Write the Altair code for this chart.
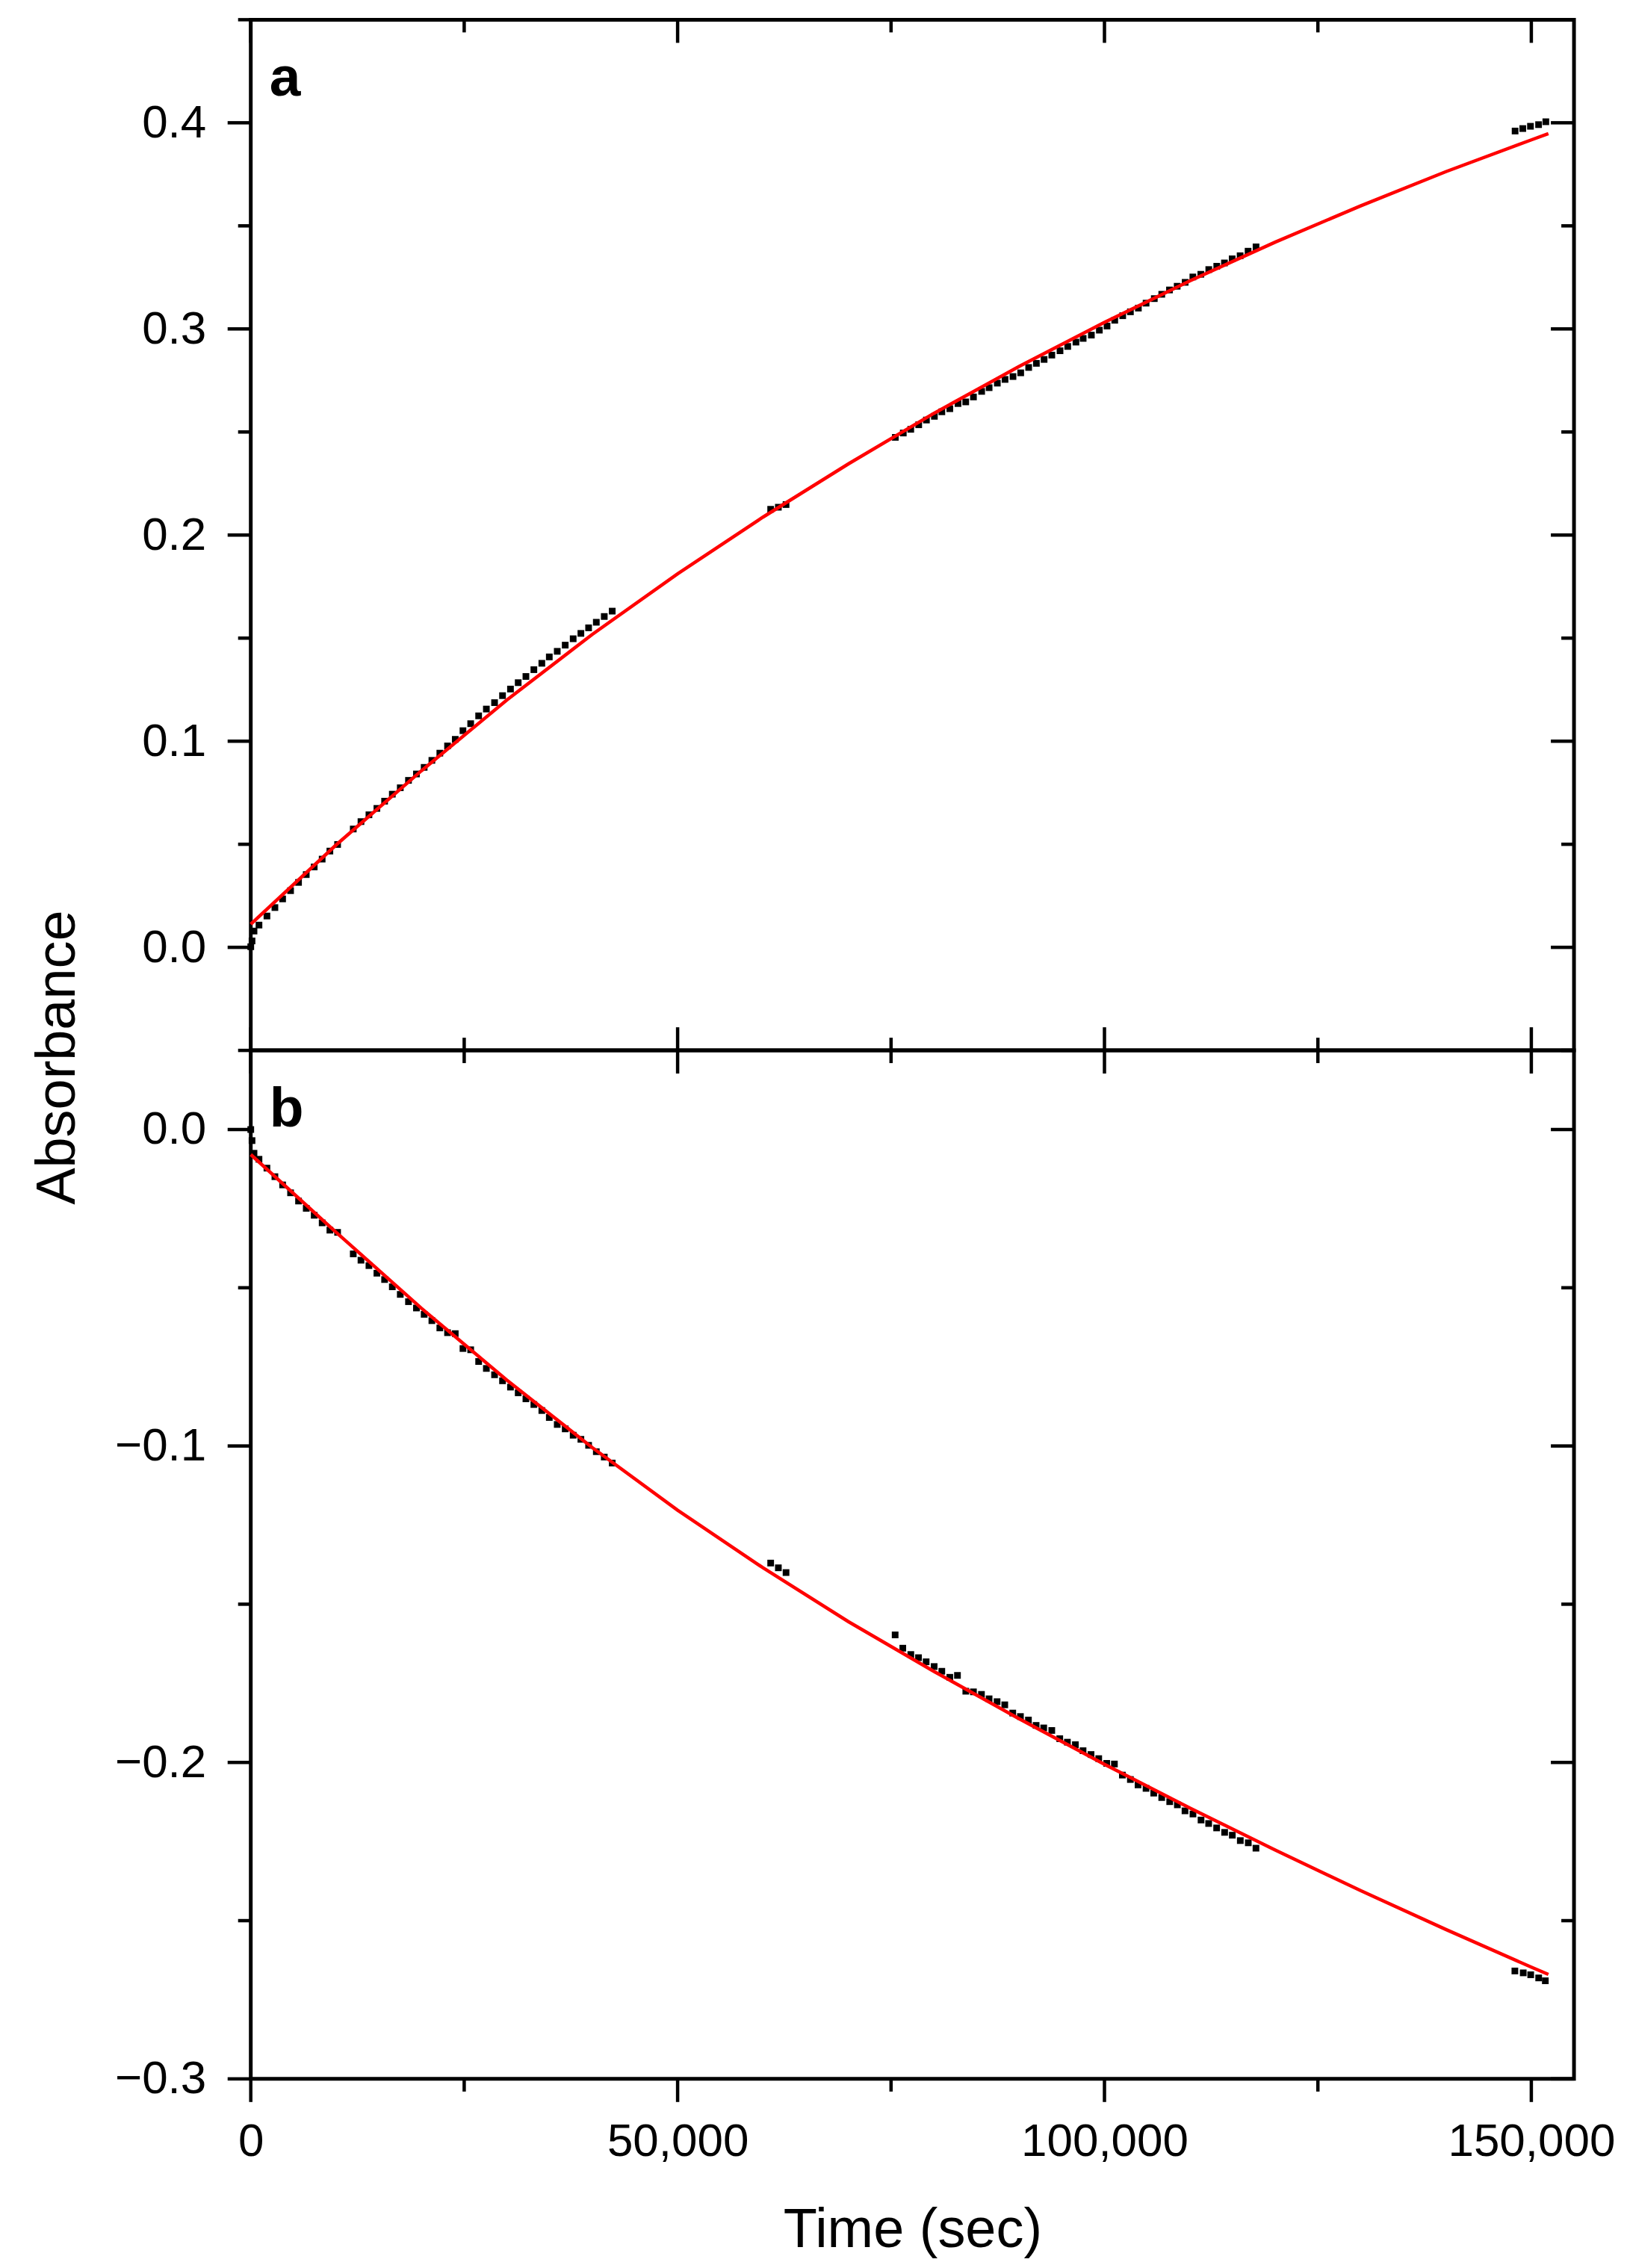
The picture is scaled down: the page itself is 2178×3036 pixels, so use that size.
import altair as alt
import pandas as pd

# ---------------- data ----------------
# panel a: measured absorbance
a_time = [0, 146, 379, 962, 1894, 2827, 3730, 4662, 5595, 6498, 7431, 8363, 9267, 10170,
          12006, 12909, 13842, 14774, 15677, 16581, 17513, 18475, 19407, 20311, 21214, 22146,
          23050, 23953, 24856, 25760, 26692, 27596, 28557, 29490, 30422, 31326, 32229, 33161,
          34094, 34968, 35900, 36833, 37765, 38669, 39572, 40475, 41408, 42340,
          60900, 61800, 62700,
          75502, 76434, 77309, 78241, 79144, 80077, 80951, 81884, 82845, 83748, 84652, 85613,
          86488, 87449, 88352, 89285, 90188, 91121, 92024, 92928, 93831, 94793, 95696, 96658,
          97503, 98464, 99399, 100300, 101204, 102136, 103039, 103972, 104875, 105837, 106711,
          107614, 108518, 109450, 110354, 111287, 112218, 113152, 114054, 114957, 115890,
          116822, 117755,
          148100, 149000, 149900, 150850, 151700]
a_abs = [0.0003, 0.0031, 0.0079, 0.0108, 0.0152, 0.0193, 0.0235, 0.0275, 0.0315, 0.0353, 0.0390,
         0.0428, 0.0467, 0.0499,
         0.0574, 0.0610, 0.0643, 0.0674, 0.0709, 0.0743, 0.0774, 0.0810, 0.0841, 0.0873, 0.0907,
         0.0942, 0.0977, 0.1009, 0.1051, 0.1085, 0.1123, 0.1156, 0.1187, 0.1221, 0.1253, 0.1284,
         0.1314, 0.1347, 0.1378, 0.1409, 0.1436, 0.1466, 0.1497, 0.1523, 0.1550, 0.1577, 0.1605,
         0.1631,
         0.2125, 0.2135, 0.2148,
         0.2474, 0.2495, 0.2513, 0.2535, 0.2558, 0.2576, 0.2598, 0.2613, 0.2638, 0.2646, 0.2670,
         0.2697, 0.2715, 0.2737, 0.2755, 0.2769, 0.2787, 0.2813, 0.2833, 0.2852, 0.2873, 0.2894,
         0.2915, 0.2936, 0.2954, 0.2970, 0.2994, 0.3014, 0.3042, 0.3064, 0.3083, 0.3101, 0.3125,
         0.3147, 0.3168, 0.3189, 0.3207, 0.3226, 0.3252, 0.3265, 0.3288, 0.3304, 0.3320, 0.3340,
         0.3355, 0.3377, 0.3398,
         0.3960, 0.3972, 0.3983, 0.3991, 0.4005]

# panel a: fitted curve
fit_time = [0, 10000, 20000, 30000, 40000, 50000, 60000, 70000, 80000, 90000, 100000,
            110000, 120000, 130000, 140000, 150000, 152000]
a_fit = [0.0112, 0.0497, 0.0857, 0.1200, 0.1518, 0.1812, 0.2087, 0.2345, 0.2590, 0.2818,
         0.3032, 0.3233, 0.3421, 0.3597, 0.3763, 0.3917, 0.3947]

# panel b: measured absorbance
b_time = [0, 146, 379, 962, 1894, 2827, 3730, 4662, 5595, 6498, 7431, 8363, 9267, 10170,
          12006, 12909, 13842, 14774, 15677, 16581, 17513, 18475, 19407, 20311, 21214, 22146,
          23050, 23953, 24856, 25760, 26692, 27596, 28557, 29490, 30422, 31326, 32229, 33161,
          34094, 34968, 35900, 36833, 37765, 38669, 39572, 40475, 41408, 42340,
          60900, 61800, 62700,
          75480, 76378, 77316, 78214, 79110, 80048, 80946, 81883, 82780, 83757, 84652, 85590,
          86485, 87420, 88320, 89256, 90156, 91092, 91992, 92884, 93828, 94763, 95657, 96591,
          97491, 98428, 99327, 100263, 101163, 102098, 103034, 103933, 104870, 105770, 106706,
          107642, 108541, 109433, 110368, 111312, 112204, 113139, 114075, 114975, 115910,
          116846, 117745,
          148074, 149053, 149927, 150862, 151640]
b_abs = [0.0, -0.0035, -0.0075, -0.0094, -0.0122, -0.0149, -0.0175, -0.0200, -0.0226, -0.0249,
         -0.0271, -0.0295, -0.0318, -0.0325,
         -0.0393, -0.0413, -0.0430, -0.0454, -0.0474, -0.0497, -0.0521, -0.0544, -0.0564,
         -0.0584, -0.0604, -0.0627, -0.0642, -0.0645, -0.0692, -0.0696, -0.0733, -0.0755,
         -0.0775, -0.0794, -0.0814, -0.0832, -0.0851, -0.0869, -0.0888, -0.0910, -0.0932,
         -0.0946, -0.0966, -0.0979, -0.0998, -0.1018, -0.1035, -0.1054,
         -0.1370, -0.1385, -0.1400,
         -0.1597, -0.1639, -0.1659, -0.1669, -0.1682, -0.1697, -0.1712, -0.1731, -0.1725,
         -0.1775, -0.1777, -0.1785, -0.1799, -0.1808, -0.1818, -0.1844, -0.1855, -0.1866,
         -0.1883, -0.1891, -0.1899, -0.1925, -0.1936, -0.1944, -0.1963, -0.1975, -0.1988,
         -0.2003, -0.2005, -0.2040, -0.2054, -0.2071, -0.2082, -0.2097, -0.2111, -0.2124,
         -0.2134, -0.2153, -0.2163, -0.2182, -0.2193, -0.2207, -0.2221, -0.2230, -0.2247,
         -0.2254, -0.2271,
         -0.2659, -0.2665, -0.2671, -0.2681, -0.2690]

# panel b: fitted curve
b_fit = [-0.0079, -0.0325, -0.0565, -0.0792, -0.1005, -0.1203, -0.1385, -0.1555, -0.1712,
         -0.1862, -0.2006, -0.2144, -0.2277, -0.2405, -0.2528, -0.2647, -0.2670]

# tick values
x_major = [0, 50000, 100000, 150000]
x_minor = [25000, 75000, 125000]
ya_major = [0.0, 0.1, 0.2, 0.3, 0.4]
ya_minor = [-0.05, 0.05, 0.15, 0.25, 0.35, 0.45]
yb_major = [0.0, -0.1, -0.2, -0.3]
yb_minor = [-0.05, -0.15, -0.25]

# ---------------- layout / style ----------------
W = 1773
HA = 1381
HB = 1378
X_DOMAIN = [0, 155000]
YA_DOMAIN = [-0.05, 0.45]
YB_DOMAIN = [-0.3, 0.025]
MAJ = 31
MINL = 17
TW = 4.5
FONT = "Liberation Sans"
LABEL_FS = 62
TITLE_FS = 74

xs = alt.Scale(domain=X_DOMAIN, nice=False, zero=False)


def y_axis(values, title=None):
    kw = dict(values=values, format=".1f", ticks=False, tickSize=0, domain=False, grid=False,
              labelPadding=60, labelFontSize=LABEL_FS, labelFont=FONT, labelColor="black",
              labelFlush=False, labelOverlap=False, labelLimit=1000)
    if title:
        kw.update(title=title, titleFont=FONT, titleFontSize=TITLE_FS, titleFontWeight="normal",
                  titleColor="black", titleAngle=270, titleX=-236, titleY=HA + 9,
                  titleAlign="center", titleBaseline="alphabetic", titleLimit=2000)
    else:
        kw.update(title=None)
    return alt.Axis(**kw)


x_axis_b = alt.Axis(values=x_major, format=",d", ticks=False, tickSize=0, domain=False,
                    grid=False, labelPadding=103, labelBaseline="alphabetic",
                    labelFontSize=LABEL_FS, labelFont=FONT, labelColor="black",
                    labelFlush=False, labelOverlap=False, labelLimit=1000,
                    title="Time (sec)", titleFont=FONT, titleFontSize=TITLE_FS,
                    titleFontWeight="normal", titleColor="black", titleY=225,
                    titleBaseline="alphabetic", titleLimit=2000)


def panel(time, absv, fit_y, ydomain, ymaj, ymin, H, label, yax, xax, bottom_out):
    ys = alt.Scale(domain=ydomain, nice=False, zero=False)
    pts = pd.DataFrame({"t": time, "A": absv})
    fit = pd.DataFrame({"t": fit_time, "A": fit_y})

    X = lambda: alt.X("t:Q", scale=xs, axis=xax)
    Y = lambda: alt.Y("A:Q", scale=ys, axis=yax)

    layers = []
    layers.append(alt.Chart(pts).mark_square(size=80, color="black", opacity=1)
                  .encode(x=X(), y=Y()))
    layers.append(alt.Chart(fit).mark_line(color="#FF0000", strokeWidth=4.5)
                  .encode(x=X(), y=Y(), order="t:Q"))

    def yt(vals, L):
        d = pd.DataFrame({"A": vals})
        left = alt.Chart(d).mark_rule(color="black", strokeWidth=TW).encode(
            y=Y(), x=alt.value(-L), x2=alt.value(0))
        right = alt.Chart(d).mark_rule(color="black", strokeWidth=TW).encode(
            y=Y(), x=alt.value(W - L), x2=alt.value(W))
        return [left, right]

    def xt(vals, L):
        d = pd.DataFrame({"t": vals})
        top = alt.Chart(d).mark_rule(color="black", strokeWidth=TW).encode(
            x=X(), y=alt.value(0), y2=alt.value(L))
        if bottom_out:
            bot = alt.Chart(d).mark_rule(color="black", strokeWidth=TW).encode(
                x=X(), y=alt.value(H), y2=alt.value(H + L))
        else:
            bot = alt.Chart(d).mark_rule(color="black", strokeWidth=TW).encode(
                x=X(), y=alt.value(H - L), y2=alt.value(H))
        return [top, bot]

    layers += yt(ymaj, MAJ) + yt(ymin, MINL) + xt(x_major, MAJ) + xt(x_minor, MINL)

    lab = pd.DataFrame({"s": [label]})
    layers.append(alt.Chart(lab).mark_text(font=FONT, fontSize=75, fontWeight="bold",
                                           align="left", baseline="alphabetic", color="black")
                  .encode(text="s:N", x=alt.value(25), y=alt.value(102)))

    return alt.layer(*layers).properties(width=W, height=H)


top = panel(a_time, a_abs, a_fit, YA_DOMAIN, ya_major, ya_minor, HA, "a",
            y_axis(ya_major, "Absorbance"), None, False)
bottom = panel(b_time, b_abs, b_fit, YB_DOMAIN, yb_major, yb_minor, HB, "b",
               y_axis(yb_major), x_axis_b, True)

chart = (alt.vconcat(top, bottom, spacing=0, bounds="flush")
         .properties(padding={"left": 30, "top": 12, "right": 5, "bottom": 5})
         .configure(font=FONT, background="white")
         .configure_view(stroke="black", strokeWidth=5))

chart.save("out.html", embed_options={"renderer": "svg", "actions": False})
